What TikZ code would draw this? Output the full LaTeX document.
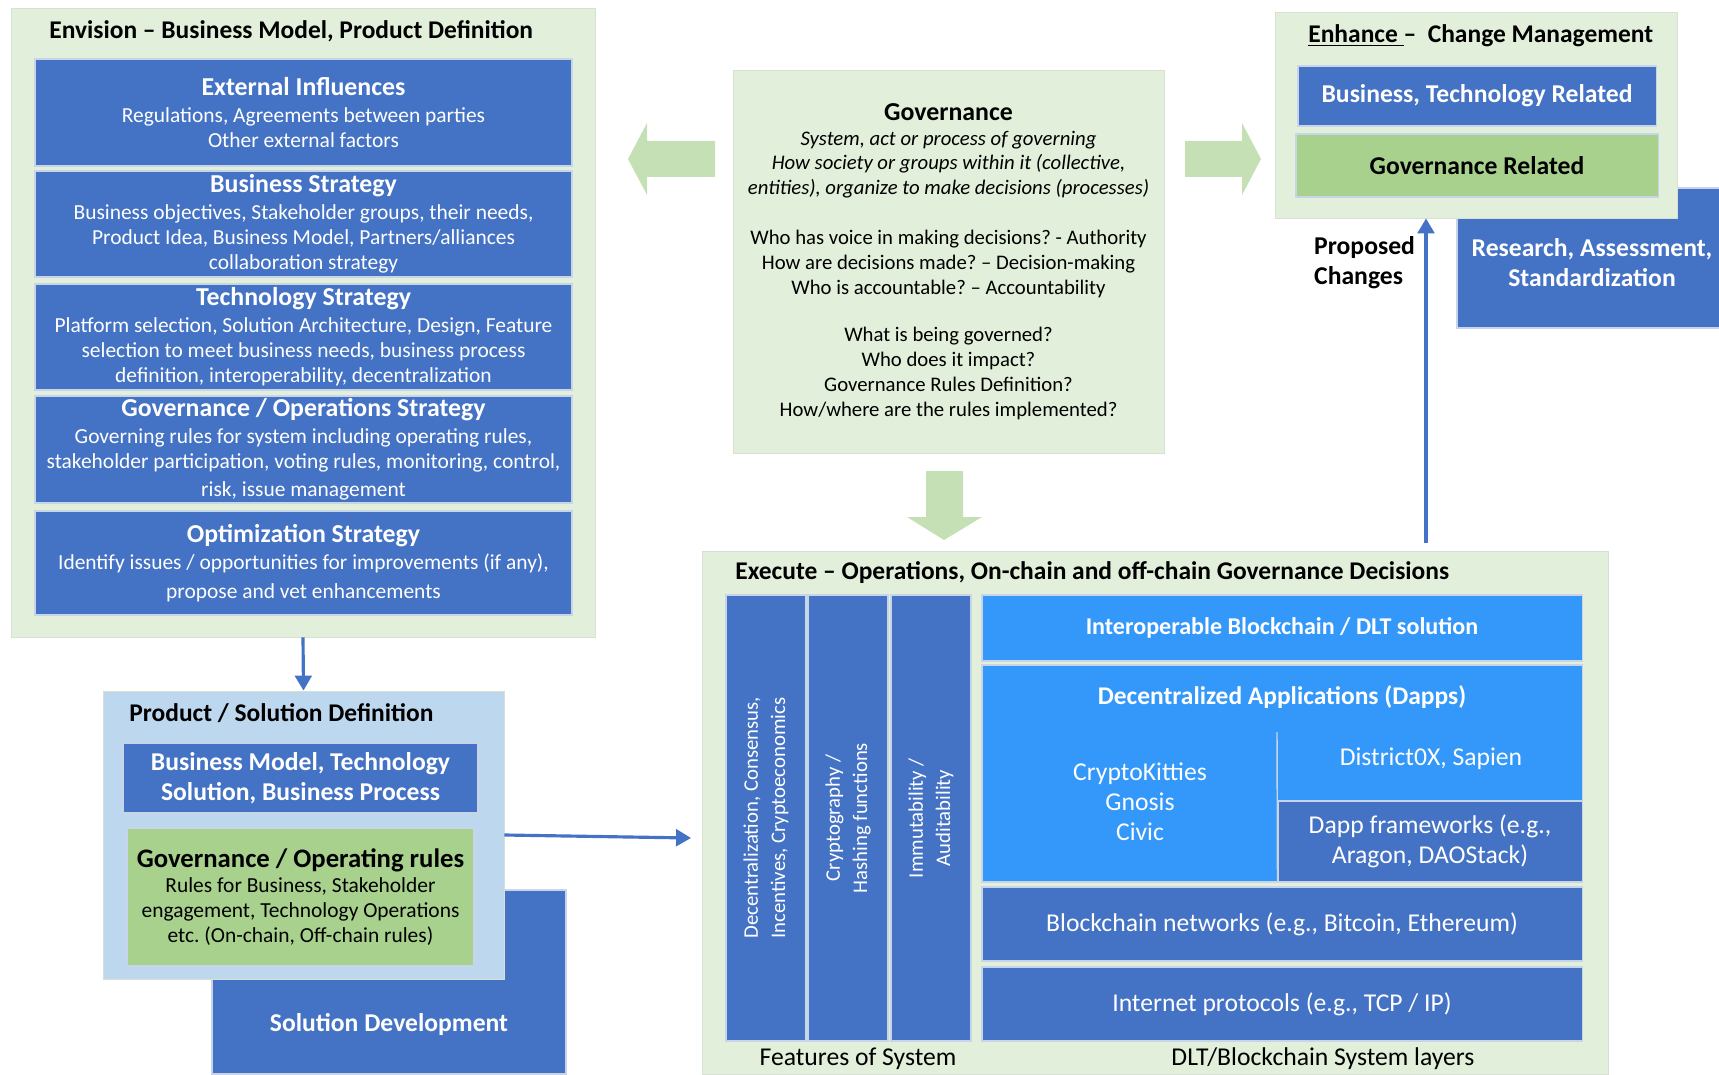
\documentclass[tikz,border=0pt]{standalone}
\usepackage{fontspec}
\setmainfont{Carlito}
\usetikzlibrary{arrows.meta}

\definecolor{dblue}{RGB}{68,114,196}
\definecolor{sky}{RGB}{52,152,250}
\definecolor{bggreen}{RGB}{226,239,218}
\definecolor{ggreen}{RGB}{169,209,142}
\definecolor{pblue}{RGB}{189,215,238}
\definecolor{arrgreen}{RGB}{197,224,180}
\definecolor{boxline}{RGB}{200,212,232}
\definecolor{panelline}{RGB}{215,225,210}

\newcommand{\boxtitle}[1]{{\fontsize{14.7}{17}\selectfont\bfseries #1}}

\begin{document}
\frenchspacing
\begin{tikzpicture}[
    x=0.02cm, y=-0.02cm,
    spot/.style args = {#1/#2/#3/#4}{at={({(#1+#3)/2},{(#2+#4)/2})},
                       minimum width={(#3-#1)*0.02cm},
                       minimum height={(#4-#2)*0.02cm}},
    panel/.style    = {fill=bggreen, draw=panelline, line width=0.5pt, inner sep=0pt},
    bluebox/.style  = {fill=dblue, draw=boxline, line width=0.6pt, inner sep=0pt,
                       text=white, align=center,
                       font=\fontsize{12.2}{14.3}\selectfont},
    greenbox/.style = {bluebox, fill=ggreen, text=black},
    skybox/.style   = {bluebox, fill=sky},
    heading/.style  = {font=\fontsize{14.5}{17}\selectfont\bfseries,
                       anchor=west, inner sep=0pt},
    big/.style      = {font=\fontsize{14.6}{17}\selectfont},
    bigbold/.style  = {font=\fontsize{14.6}{17}\selectfont\bfseries},
    coltext/.style  = {rotate=90, text=white, align=center,
                       font=\fontsize{11.8}{15.5}\selectfont},
    arr/.style      = {draw=dblue, line width=1.8pt,
                       -{Triangle[width=9.5pt,length=8.5pt]}},
    blockarr/.style = {fill=arrgreen}
]
\useasboundingbox (0,0) rectangle (1719,1074);

% Envision
\node (env) [panel, spot=11/8/595/637] {};
\node (envt) [heading] at (49,31) {Envision – Business Model, Product Definition};
\node (ext) [bluebox, spot=35/59/572/166] {\boxtitle{External Influences}\\[1pt]
Regulations, Agreements between parties\\ Other external factors};
\node (bus) [bluebox, spot=35/171/572/277] {\boxtitle{Business Strategy}\\[1pt]
Business objectives, Stakeholder groups, their needs,\\
Product Idea, Business Model, Partners/alliances\\ collaboration strategy};
\node (tech) [bluebox, spot=35/284/572/390] {\boxtitle{Technology Strategy}\\[1pt]
Platform selection, Solution Architecture, Design, Feature\\
selection to meet business needs, business process\\
definition, interoperability, decentralization};
\node (gov) [bluebox, spot=35/396/572/503] {\boxtitle{Governance / Operations Strategy}\\[1pt]
Governing rules for system including operating rules,\\
stakeholder participation, voting rules, monitoring, control,\\[1.5pt]
risk, issue management};
\node (opt) [bluebox, spot=35/511/572/615] {\boxtitle{Optimization Strategy}\\[1pt]
Identify issues / opportunities for improvements (if any),\\[2pt]
propose and vet enhancements};

% Product / Solution
\node (sdev) [bluebox, spot=212/890/566/1074] {};
\node (sdevt) [bigbold, text=white] at (389,1024) {Solution Development};
\node (prod) [panel, fill=pblue, spot=103/691/504/979] {};
\node (prodt) [heading] at (129,713) {Product / Solution Definition};
\node (pbm) [bluebox, bigbold, spot=123/743/478/813] {Business Model, Technology\\ Solution, Business Process};
\node (prules) [greenbox, spot=127/828/474/966] {{\fontsize{15.2}{17}\selectfont\bfseries Governance / Operating rules}\\
Rules for Business, Stakeholder\\ engagement, Technology Operations\\ etc. (On-chain, Off-chain rules)};
\draw[arr] (env.south) -- (prod.north);
\coordinate (exin) at (691,838);
\draw[arr] (prod.east) -- (exin);

% Governance
\node (govn) [panel, spot=733/70/1164/453, align=center,
              font=\fontsize{11.8}{14.2}\selectfont] {\boxtitle{Governance}\\[0pt]
\textit{System, act or process of governing}\\
\textit{How society or groups within it (collective,}\\
\textit{entities), organize to make decisions (processes)}\\[14.2pt]
Who has voice in making decisions? - Authority\\
How are decisions made? – Decision-making\\
Who is accountable? – Accountability\\[12.5pt]
What is being governed?\\ Who does it impact?\\
Governance Rules Definition?\\ How/where are the rules implemented?};
\fill[blockarr] (715,141) -- (647,141) -- (647,123) -- (628,159) -- (647,195)
  -- (647,177) -- (715,177) -- cycle;
\fill[blockarr] (1185,141) -- (1242,141) -- (1242,123) -- (1261,159) -- (1242,195)
  -- (1242,177) -- (1185,177) -- cycle;
\fill[blockarr] (926,471) -- (963,471) -- (963,517) -- (982,517) -- (944,540)
  -- (907,517) -- (926,517) -- cycle;

% Enhance
\node (rsch) [bluebox, spot=1457/188/1719/328] {};
\node (rscht) [bigbold, text=white, align=center] at (1592,263) {Research, Assessment,\\ Standardization};
\node (enh) [panel, spot=1275/12/1677/218] {};
\node (enht) [heading] at (1308,36) {\underline{Enhance\ }– \ Change Management};
\node (btr) [bluebox, bigbold, spot=1298/66/1656/126] {Business, Technology Related};
\node (govr) [greenbox, bigbold, spot=1296/134/1658/197] {Governance Related};
\node (prop) [bigbold, anchor=west, align=left] at (1308,263) {Proposed\\ Changes};
\coordinate (propfrom) at (1426,543);
\draw[arr] (propfrom) -- (propfrom |- enh.south);

% Execute
\node (exec) [panel, spot=702/551/1608/1074] {};
\node (exect) [heading] at (735,573) {Execute – Operations, On-chain and off-chain Governance Decisions};
\node (feat1) [bluebox, spot=726/595/806/1041] {};
\node (feat2) [bluebox, spot=808/595/888/1041] {};
\node (feat3) [bluebox, spot=891/595/971/1041] {};
\node (feat1t) [coltext] at (feat1) {Decentralization, Consensus,\\ Incentives, Cryptoeconomics};
\node (feat2t) [coltext] at (feat2) {Cryptography /\\ Hashing functions};
\node (feat3t) [coltext] at (feat3) {Immutability /\\ Auditability};
\node (interop) [skybox, font=\fontsize{13.7}{16}\selectfont\bfseries, spot=982/595/1582/661] {Interoperable Blockchain / DLT solution};
\node (dapps) [skybox, spot=982/665/1582/882] {};
\node (dappst) [text=white, font=\fontsize{14.5}{17}\selectfont\bfseries] at (1282,697) {Decentralized Applications (Dapps)};
\node (dfw) [bluebox, big, spot=1278/801/1582/882] {Dapp frameworks (e.g.,\\ Aragon, DAOStack)};
\draw[boxline, line width=0.8pt] (1277,732) -- (dfw.south west);
\node (dist) [big, text=white] at (1431,759) {District0X, Sapien};
\node (kitties) [text=white, align=center, font=\fontsize{14.6}{17}\selectfont] at (1140,802) {CryptoKitties\\ Gnosis\\ Civic};
\node (bnet) [bluebox, big, spot=982/887/1582/961] {Blockchain networks (e.g., Bitcoin, Ethereum)};
\node (inet) [bluebox, big, spot=982/967/1582/1041] {Internet protocols (e.g., TCP / IP)};
\node (featl) [big] at (858,1059) {Features of System};
\node (dltl) [big] at (1323,1059) {DLT/Blockchain System layers};
\end{tikzpicture}
\end{document}
